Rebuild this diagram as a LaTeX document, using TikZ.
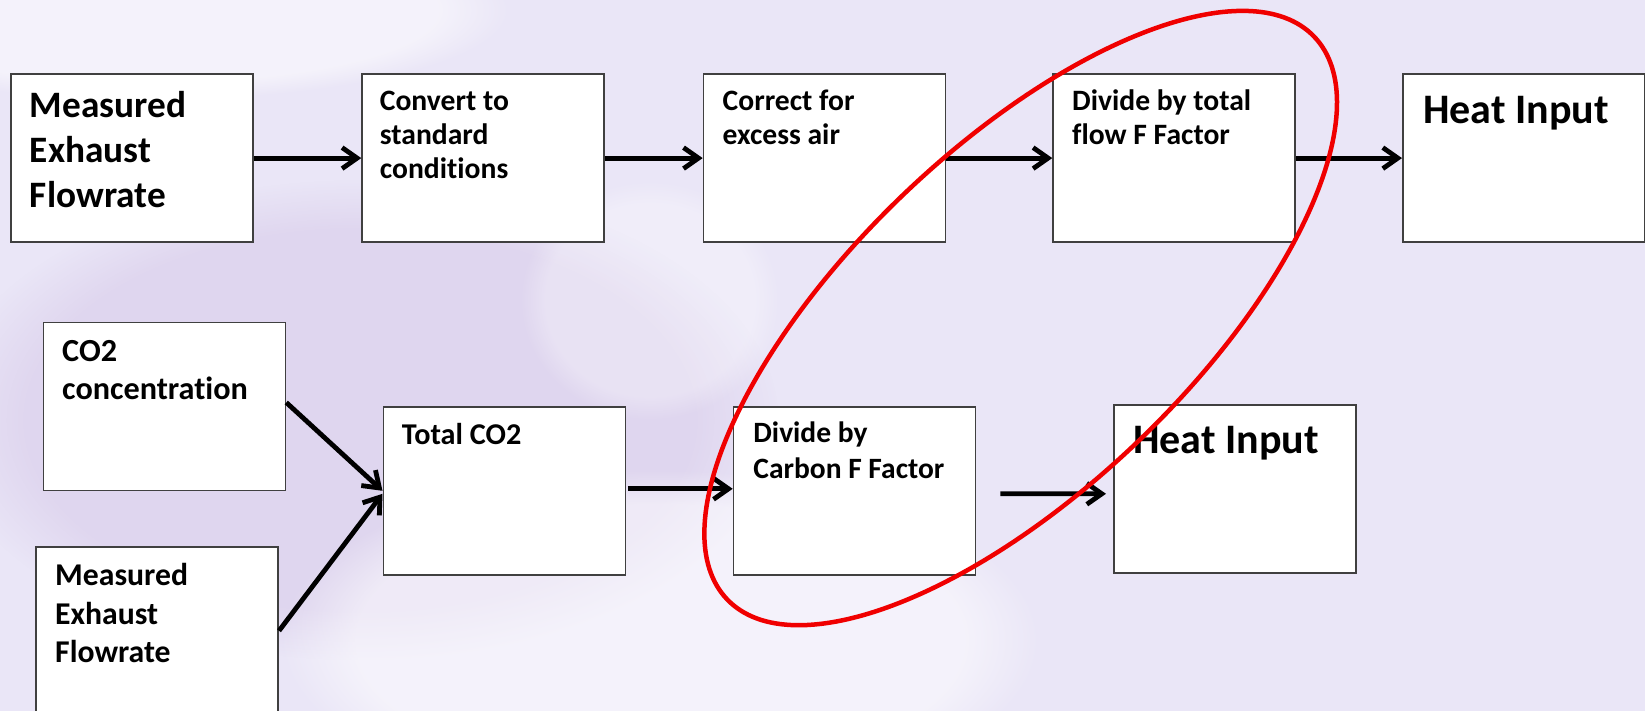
\documentclass[tikz,border=0pt]{standalone}
\usepackage{fontspec}
\setmainfont{Carlito}[Ligatures=NoCommon]
\usetikzlibrary{arrows.meta,fadings}
\definecolor{bgc}{RGB}{234,230,247}
\definecolor{bgpurple}{RGB}{214,200,232}
\definecolor{boxline}{RGB}{64,64,64}
\definecolor{ringred}{RGB}{240,0,0}
\tikzset{
  box/.style={draw=boxline, line width=1.6bp, fill=white, anchor=north west,
    inner sep=0pt, minimum width=242bp, minimum height=168bp},
  txt/.style={anchor=base west, align=left, inner sep=0pt},
  arr/.style={line width=4.8bp, -{Straight Barb[length=15bp,width=21bp]}},
  ring/.style={draw=ringred, line width=4.5bp},
  blob/.style={path fading=circle with fuzzy edge 20 percent},
}
\begin{document}
\begin{tikzpicture}[x=1bp, y=-1bp]
\useasboundingbox (0,0) rectangle (1645,711);
% background
\fill[bgc] (0,0) rectangle (1645,711);
\fill[bgpurple, opacity=0.5, blob] (360,420) ellipse [x radius=420bp, y radius=240bp];
\fill[white, opacity=0.5, blob] (660,640) ellipse [x radius=380bp, y radius=170bp];
\fill[white, opacity=0.3, blob] (650,300) ellipse [x radius=130bp, y radius=120bp];
\fill[white, opacity=0.5, blob] (150,10) ellipse [x radius=360bp, y radius=90bp];

% row 1
\node[box] (A) at (10,73.3) {};
\node[box] (B) at (361.3,73.3) {};
\node[box] (C) at (702.7,73.3) {};
\node[box] (D) at (1052.3,73.3) {};
\node[box] (E) at (1402,73.3) {};
\node[txt, font=\bfseries\fontsize{37.3bp}{45bp}\selectfont] (At) at (29.8,207.5) {Measured\\Exhaust\\Flowrate};
\node[txt, font=\bfseries\fontsize{29.6bp}{34bp}\selectfont] (Bt) at (379.7,178.5) {Convert to\\standard\\conditions};
\node[txt, font=\bfseries\fontsize{29.6bp}{34bp}\selectfont] (Ct) at (722.5,144.8) {Correct for\\excess air};
\node[txt, font=\bfseries\fontsize{29.6bp}{34bp}\selectfont] (Dt) at (1072,144.8) {Divide by total\\flow F Factor};
\node[txt, font=\bfseries\fontsize{42bp}{50bp}\selectfont] (Et) at (1423,124) {Heat Input};

% row 2
\node[box] (F) at (42.7,321.7) {};
\node[box] (G) at (35.4,546) {};
\node[box] (H) at (382.5,406) {};
\node[box] (I) at (732.7,406) {};
\node[box] (J) at (1113,404) {};
\node[txt, font=\bfseries\fontsize{32.2bp}{37.6bp}\selectfont] (Ft) at (62,399.3) {CO2\\concentration};
\node[txt, font=\bfseries\fontsize{31.7bp}{38.5bp}\selectfont] (Gt) at (55,662.7) {Measured\\Exhaust\\Flowrate};
\node[txt, font=\bfseries\fontsize{30.2bp}{35.6bp}\selectfont] (Ht) at (401.7,444) {Total CO2};
\node[txt, font=\bfseries\fontsize{29.5bp}{35.6bp}\selectfont] (It) at (753.2,478.3) {Divide by\\Carbon F Factor};
\node[txt, font=\bfseries\fontsize{42bp}{50bp}\selectfont] (Jt) at (1133,453.3) {Heat Input};

% connectors
\draw[arr] (A.east) -- (B.west);
\draw[arr] (B.east) -- (C.west);
\draw[arr] (C.east) -- (D.west);
\draw[arr] (D.east) -- (E.west);
\draw[arr] ([yshift=4bp]F.east) -- (H.west);
\draw[arr] (G.east) -- ([yshift=-3bp]H.west);
\draw[arr] ([xshift=2bp,yshift=2bp]H.east) -- ([yshift=2bp]I.west);
\draw[arr] ([xshift=24bp,yshift=-3bp]I.east) -- ([xshift=-7bp,yshift=-5bp]J.west);

% red ring
\coordinate (RC) at (1020.75,318);
\draw[ring, rotate around={43.8:(RC)}] (RC) ellipse [x radius=406.6bp, y radius=170.3bp];
\end{tikzpicture}
\end{document}
